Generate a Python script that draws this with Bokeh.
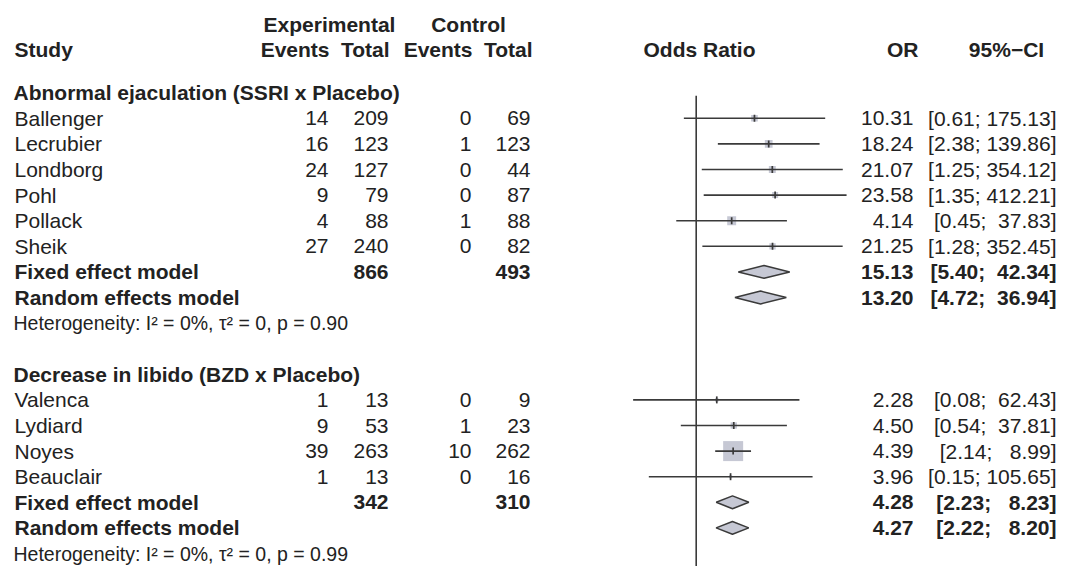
from bokeh.plotting import figure
from bokeh.models import Range1d, LogScale, ColumnDataSource
from bokeh.embed import file_html
from bokeh.resources import INLINE
from bokeh.core.properties import value
import math

# ---------------- data ----------------
group_titles = ["Abnormal ejaculation (SSRI x Placebo)", "Decrease in libido (BZD x Placebo)"]

g1_studies = ["Ballenger", "Lecrubier", "Londborg", "Pohl", "Pollack", "Sheik"]
g1_exp_events = [14, 16, 24, 9, 4, 27]
g1_exp_total = [209, 123, 127, 79, 88, 240]
g1_ctrl_events = [0, 1, 0, 0, 1, 0]
g1_ctrl_total = [69, 123, 44, 87, 88, 82]
g1_or = [10.31, 18.24, 21.07, 23.58, 4.14, 21.25]
g1_lower = [0.61, 2.38, 1.25, 1.35, 0.45, 1.28]
g1_upper = [175.13, 139.86, 354.12, 412.21, 37.83, 352.45]
g1_weight = [0.11, 0.15, 0.12, 0.09, 0.20, 0.10]
g1_fixed = [15.13, 5.40, 42.34]
g1_random = [13.20, 4.72, 36.94]
g1_totals = [866, 493]
g1_het = "Heterogeneity: I\u00b2 = 0%, \u03c4\u00b2 = 0, p = 0.90"

g2_studies = ["Valenca", "Lydiard", "Noyes", "Beauclair"]
g2_exp_events = [1, 9, 39, 1]
g2_exp_total = [13, 53, 263, 13]
g2_ctrl_events = [0, 1, 10, 0]
g2_ctrl_total = [9, 23, 262, 16]
g2_or = [2.28, 4.50, 4.39, 3.96]
g2_lower = [0.08, 0.54, 2.14, 0.15]
g2_upper = [62.43, 37.81, 8.99, 105.65]
g2_weight = [0.03, 0.10, 1.00, 0.025]
g2_fixed = [4.28, 2.23, 8.23]
g2_random = [4.27, 2.22, 8.20]
g2_totals = [342, 310]
g2_het = "Heterogeneity: I\u00b2 = 0%, \u03c4\u00b2 = 0, p = 0.99"

groups = [
    (group_titles[0], g1_studies, g1_exp_events, g1_exp_total, g1_ctrl_events, g1_ctrl_total,
     g1_or, g1_lower, g1_upper, g1_weight, g1_fixed, g1_random, g1_totals, g1_het),
    (group_titles[1], g2_studies, g2_exp_events, g2_exp_total, g2_ctrl_events, g2_ctrl_total,
     g2_or, g2_lower, g2_upper, g2_weight, g2_fixed, g2_random, g2_totals, g2_het),
]

# ---------------- styles ----------------
FONT = value("Liberation Sans")
FS = "21px"
FS_HET = "19.5px"
TXT = "#222222"
LINE = "#3a3a3a"
FILL = "#c6c8d4"
NB = "\u00a0"


def fmt_ci(lo, up):
    return "[" + f"{lo:4.2f}".replace(" ", NB) + "; " + f"{up:6.2f}".replace(" ", NB) + "]"


# ---------------- build rows ----------------
rows_plain = dict(y=[], name=[], ee=[], et=[], ce=[], ct=[], orv=[], ci=[])
rows_bold = dict(y=[], name=[], et=[], ct=[], orv=[], ci=[])
head_rows = dict(y=[], name=[])
het_rows = dict(y=[], name=[])
study = dict(y=[], est=[], lo=[], up=[], size=[])
dia_xs, dia_ys = [], []

r = 0
H = 0.25
for (title, names, ee, et, ce, ct, orv, lo, up, w, fixed, rand, tot, het) in groups:
    head_rows["y"].append(r)
    head_rows["name"].append(title)
    r += 1
    for i in range(len(names)):
        rows_plain["y"].append(r)
        rows_plain["name"].append(names[i])
        rows_plain["ee"].append(str(ee[i]))
        rows_plain["et"].append(str(et[i]))
        rows_plain["ce"].append(str(ce[i]))
        rows_plain["ct"].append(str(ct[i]))
        rows_plain["orv"].append(f"{orv[i]:.2f}")
        rows_plain["ci"].append(fmt_ci(lo[i], up[i]))
        study["y"].append(r)
        study["est"].append(orv[i])
        study["lo"].append(lo[i])
        study["up"].append(up[i])
        study["size"].append(20 * math.sqrt(w[i]))
        r += 1
    for label, m, show_tot in (("Fixed effect model", fixed, True), ("Random effects model", rand, False)):
        rows_bold["y"].append(r)
        rows_bold["name"].append(label)
        rows_bold["et"].append(str(tot[0]) if show_tot else "")
        rows_bold["ct"].append(str(tot[1]) if show_tot else "")
        rows_bold["orv"].append(f"{m[0]:.2f}")
        rows_bold["ci"].append(fmt_ci(m[1], m[2]))
        dia_xs.append([m[1], m[0], m[2], m[0]])
        dia_ys.append([r, r - H, r, r + H])
        r += 1
    het_rows["y"].append(r)
    het_rows["name"].append(het)
    r += 2

# ---------------- figure ----------------
W, HGT = 1064, 566
Y0 = 92.2
DY = 25.6
p = figure(width=W, height=HGT, output_backend="svg", toolbar_location=None,
           x_range=Range1d(0, W), y_range=Range1d((HGT - Y0) / DY, (0 - Y0) / DY),
           x_axis_location=None, y_axis_location=None, min_border=0)
p.grid.visible = False
p.outline_line_color = None
p.background_fill_color = "white"
p.border_fill_color = "white"

lo_lim = 10 ** ((0 - 695.7) / 57.5)
hi_lim = 10 ** ((W - 695.7) / 57.5)
p.extra_x_ranges = {"or": Range1d(lo_lim, hi_lim)}
p.extra_x_scales = {"or": LogScale()}

src_plain = ColumnDataSource(rows_plain)
src_bold = ColumnDataSource(rows_bold)
src_head = ColumnDataSource(head_rows)
src_het = ColumnDataSource(het_rows)
src_study = ColumnDataSource(study)


def txt(x, y, text, align="left", bold=False, size=FS, source=None):
    kw = dict(text_font=FONT, text_font_size=size, text_color=TXT,
              text_align=align, text_baseline="middle",
              text_font_style="bold" if bold else "normal")
    if source is not None:
        p.text(x=x, y=y, text=text, source=source, **kw)
    else:
        p.text(x=[x], y=[y], text=[text], **kw)


# column headers
txt(329, -2.667, "Experimental", "center", True)
txt(468, -2.667, "Control", "center", True)
txt(14, -1.67, "Study", "left", True)
txt(329, -1.67, "Events", "right", True)
txt(389, -1.67, "Total", "right", True)
txt(472, -1.67, "Events", "right", True)
txt(532, -1.67, "Total", "right", True)
txt(699, -1.67, "Odds Ratio", "center", True)
txt(918, -1.67, "OR", "right", True)
txt(1006, -1.67, "95%\u2212CI", "center", True)

# reference line at OR = 1
p.segment(x0=[1], x1=[1], y0=[0.12], y1=[18.7], x_range_name="or",
          line_color=LINE, line_width=1.6)

# study squares, CI lines, estimate ticks
p.scatter(x="est", y="y", size="size", marker="square", source=src_study,
          x_range_name="or", fill_color=FILL, line_color=None)
p.segment(x0="lo", x1="up", y0="y", y1="y", source=src_study, x_range_name="or",
          line_color=LINE, line_width=1.6)
p.scatter(x="est", y="y", size=7, marker="dash", angle=math.pi / 2, source=src_study,
          x_range_name="or", line_color=LINE, line_width=1.7)

# diamonds
p.patches(xs=dia_xs, ys=dia_ys, x_range_name="or", fill_color=FILL,
          line_color=LINE, line_width=1.5)

# left text columns
txt(13, "y", "name", "left", True, source=src_head)
txt(14, "y", "name", "left", False, source=src_plain)
txt(328, "y", "ee", "right", False, source=src_plain)
txt(388, "y", "et", "right", False, source=src_plain)
txt(471, "y", "ce", "right", False, source=src_plain)
txt(530, "y", "ct", "right", False, source=src_plain)
txt(14, "y", "name", "left", True, source=src_bold)
txt(388, "y", "et", "right", True, source=src_bold)
txt(530, "y", "ct", "right", True, source=src_bold)
txt(13, "y", "name", "left", False, size=FS_HET, source=src_het)

# right text columns
txt(913, "y", "orv", "right", False, source=src_plain)
txt(1056, "y", "ci", "right", False, source=src_plain)
txt(913, "y", "orv", "right", True, source=src_bold)
txt(1056, "y", "ci", "right", True, source=src_bold)

open("out.html", "w").write(file_html(p, INLINE))
